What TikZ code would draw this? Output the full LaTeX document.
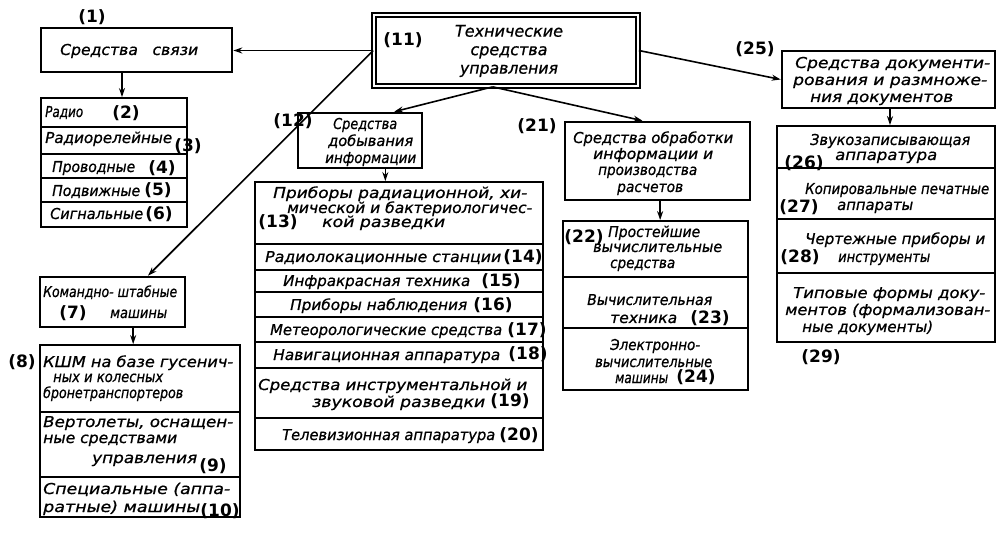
\documentclass[tikz,border=0pt]{standalone}
\usepackage{fontspec}
\setmainfont{DejaVu Sans}
\usepackage{graphicx}
\usetikzlibrary{arrows.meta,fit,calc}
\newcommand\fw[2]{\resizebox{#1pt}{\height}{#2}}
\newcommand\mkline[5]{\node[tx, anchor=base west] (#1) at (#2,{#3+5}) {\fw{#4}{#5}};}
\newcommand\mknum[4]{\node[nm] (#1) at (#2,#3) {#4};}
\begin{document}
\begin{tikzpicture}[x=1pt,y=-1pt,
  hdr/.style={draw, line width=2.6pt, inner sep=0pt},
  lst/.style={draw, line width=1.8pt, inner sep=0pt},
  mainbox/.style={draw, line width=1.7pt, double=white, double distance=2.5pt, inner sep=0pt},
  tx/.style={font=\itshape\fontsize{15}{17}\selectfont\addfontfeature{FakeBold=0.8}, inner sep=0pt},
  nm/.style={font=\bfseries\fontsize{17}{17}\selectfont, inner sep=0pt},
  arr/.style={line width=1.6pt, -{Stealth[length=9pt,width=6pt]}},
]
\fill[white] (0,0) rectangle (998,534);
\useasboundingbox (0,0) rectangle (998,534);

% ---------- boxes ----------
\node[mainbox, fit={(374,15)(638,86)}] (m) {};
\node[hdr, fit={(41,28)(232,72)}] (b1) {};
\node[lst, fit={(41,98)(187,127)}] (a2) {};
\node[lst, fit={(41,127)(187,154)}] (a3) {};
\node[lst, fit={(41,154)(187,178)}] (a4) {};
\node[lst, fit={(41,178)(187,202)}] (a5) {};
\node[lst, fit={(41,202)(187,227)}] (a6) {};

\node[hdr, fit={(40,277)(185,327)}] (b7) {};
\node[lst, fit={(40,345)(240,412)}] (r8) {};
\node[lst, fit={(40,412)(240,477)}] (r9) {};
\node[lst, fit={(40,477)(240,517)}] (r10) {};

\node[hdr, fit={(298,113)(422,168)}] (b12) {};
\node[lst, fit={(255,182)(543,244)}] (r13) {};
\node[lst, fit={(255,244)(543,270)}] (r14) {};
\node[lst, fit={(255,270)(543,292)}] (r15) {};
\node[lst, fit={(255,292)(543,317)}] (r16) {};
\node[lst, fit={(255,317)(543,342)}] (r17) {};
\node[lst, fit={(255,342)(543,368)}] (r18) {};
\node[lst, fit={(255,368)(543,418)}] (r19) {};
\node[lst, fit={(255,418)(543,450)}] (r20) {};

\node[hdr, fit={(565,122)(750,200)}] (b21) {};
\node[lst, fit={(563,221)(748,277)}] (r22) {};
\node[lst, fit={(563,277)(748,328)}] (r23) {};
\node[lst, fit={(563,328)(748,390)}] (r24) {};

\node[hdr, fit={(782,51)(995,108)}] (b25) {};
\node[lst, fit={(777,126)(995,168)}] (r26) {};
\node[lst, fit={(777,168)(995,219)}] (r27) {};
\node[lst, fit={(777,219)(995,273)}] (r28) {};
\node[lst, fit={(777,273)(995,342)}] (r29) {};

% ---------- connectors ----------
\coordinate (ms) at ($(m.south west)!0.45!(m.south east)$);
\draw[arr] (m.west) -- (m.west -| b1.east);
\draw[arr] (m.west) -- ($(b7.north west)!0.74!(b7.north east)$);
\draw[arr] (ms) -- ($(b12.north west)!0.77!(b12.north east)$);
\draw[arr] (ms) -- ($(b21.north west)!0.42!(b21.north east)$);
\draw[arr] (m.east) -- (b25.west);
\coordinate (b1s) at ($(b1.south west)!0.425!(b1.south east)$);
\draw[arr] (b1s) -- (b1s |- a2.north);
\coordinate (b7s) at ($(b7.south west)!0.64!(b7.south east)$);
\draw[arr] (b7s) -- (b7s |- r8.north);
\coordinate (b12s) at ($(b12.south west)!0.7!(b12.south east)$);
\draw[arr] (b12s) -- (b12s |- r13.north);
\coordinate (b21s) at ($(b21.south west)!0.514!(b21.south east)$);
\draw[arr] (b21s) -- (b21s |- r22.north);
\coordinate (b25s) at ($(b25.south west)!0.507!(b25.south east)$);
\draw[arr] (b25s) -- (b25s |- r26.north);

% ---------- main box text ----------
\mknum{n11}{403}{40}{(11)}
\node[tx, font=\itshape\fontsize{16}{18.5}\selectfont\addfontfeature{FakeBold=0.8}, align=center] (mt) at (509,51)
  {\fw{108}{Технические}\\\fw{77}{средства}\\\fw{98}{управления}};

% ---------- box 1 and list ----------
\mknum{n1}{92}{17}{(1)}
\mkline{tb1}{60}{50}{138}{Средства\hspace{14pt}связи}
\mkline{ta2}{45}{112}{38}{Радио}
\mknum{na2}{126}{113}{(2)}
\mkline{ta3}{45}{138}{127}{Радиорелейные}
\mknum{na3}{188}{146}{(3)}
\mkline{ta4}{52}{167}{83}{Проводные}
\mknum{na4}{162}{168}{(4)}
\mkline{ta5}{52}{191}{88}{Подвижные}
\mknum{na5}{158}{190}{(5)}
\mkline{ta6}{50}{214}{93}{Сигнальные}
\mknum{na6}{159}{214}{(6)}

% ---------- box 7 and list ----------
\mkline{tb7a}{43}{292}{134}{Командно- штабные}
\mknum{n7}{73}{313}{(7)}
\mkline{tb7b}{110}{313}{57}{машины}
\mknum{n8}{22}{362}{(8)}
\mkline{t8a}{43}{362}{190}{КШМ на базе гусенич-}
\mkline{t8b}{53}{377}{110}{ных и колесных}
\mkline{t8c}{43}{393}{140}{бронетранспортеров}
\mkline{t9a}{43}{422}{190}{Вертолеты, оснащен-}
\mkline{t9b}{43}{438}{134}{ные средствами}
\mkline{t9c}{92}{458}{105}{управления}
\mknum{n9}{213}{466}{(9)}
\mkline{t10a}{43}{489}{187}{Специальные (аппа-}
\mkline{t10b}{43}{507}{157}{ратные) машины}
\mknum{n10}{220}{511}{(10)}

% ---------- box 12 and list ----------
\mknum{n12}{293}{121}{(12)}
\mkline{t12a}{333}{124}{64}{Средства}
\mkline{t12b}{328}{141}{85}{добывания}
\mkline{t12c}{325}{158}{91}{информации}
\mkline{t13a}{273}{193}{254}{Приборы радиационной, хи-}
\mkline{t13b}{287}{208}{245}{мической и бактериологичес-}
\mkline{t13c}{322}{222}{123}{кой разведки}
\mknum{n13}{278}{222}{(13)}
\mkline{t14}{265}{257}{236}{Радиолокационные станции}
\mknum{n14}{523}{257}{(14)}
\mkline{t15}{283}{281}{187}{Инфракрасная техника}
\mknum{n15}{501}{281}{(15)}
\mkline{t16}{290}{305}{177}{Приборы наблюдения}
\mknum{n16}{493}{305}{(16)}
\mkline{t17}{270}{330}{232}{Метеорологические средства}
\mknum{n17}{527}{330}{(17)}
\mkline{t18}{273}{355}{227}{Навигационная аппаратура}
\mknum{n18}{528}{354}{(18)}
\mkline{t19a}{258}{385}{269}{Средства инструментальной и}
\mkline{t19b}{312}{402}{173}{звуковой разведки}
\mknum{n19}{510}{401}{(19)}
\mkline{t20}{282}{435}{213}{Телевизионная аппаратура}
\mknum{n20}{519}{435}{(20)}

% ---------- box 21 and list ----------
\mknum{n21}{537}{126}{(21)}
\mkline{t21a}{573}{138}{160}{Средства обработки}
\mkline{t21b}{593}{154}{120}{информации и}
\mkline{t21c}{598}{170}{99}{производства}
\mkline{t21d}{617}{187}{66}{расчетов}
\mknum{n22}{584}{237}{(22)}
\mkline{t22a}{608}{232}{92}{Простейшие}
\mkline{t22b}{593}{247}{129}{вычислительные}
\mkline{t22c}{610}{263}{65}{средства}
\mkline{t23a}{587}{300}{125}{Вычислительная}
\mkline{t23b}{610}{318}{67}{техника}
\mknum{n23}{710}{318}{(23)}
\mkline{t24a}{610}{345}{90}{Электронно-}
\mkline{t24b}{595}{362}{117}{вычислительные}
\mkline{t24c}{615}{378}{53}{машины}
\mknum{n24}{696}{377}{(24)}

% ---------- box 25 and list ----------
\mknum{n25}{755}{49}{(25)}
\mkline{t25a}{795}{63}{195}{Средства документи-}
\mkline{t25b}{793}{80}{194}{рования и размноже-}
\mkline{t25c}{810}{97}{143}{ния документов}
\mkline{t26a}{810}{140}{160}{Звукозаписывающая}
\mkline{t26b}{835}{155}{102}{аппаратура}
\mknum{n26}{804}{163}{(26)}
\mkline{t27a}{805}{189}{184}{Копировальные печатные}
\mkline{t27b}{837}{205}{76}{аппараты}
\mknum{n27}{799}{207}{(27)}
\mkline{t28a}{805}{239}{180}{Чертежные приборы и}
\mkline{t28b}{838}{257}{92}{инструменты}
\mknum{n28}{800}{257}{(28)}
\mkline{t29a}{793}{293}{192}{Типовые формы доку-}
\mkline{t29b}{785}{310}{205}{ментов (формализован-}
\mkline{t29c}{802}{327}{131}{ные документы)}
\mknum{n29}{821}{357}{(29)}
\end{tikzpicture}
\end{document}
